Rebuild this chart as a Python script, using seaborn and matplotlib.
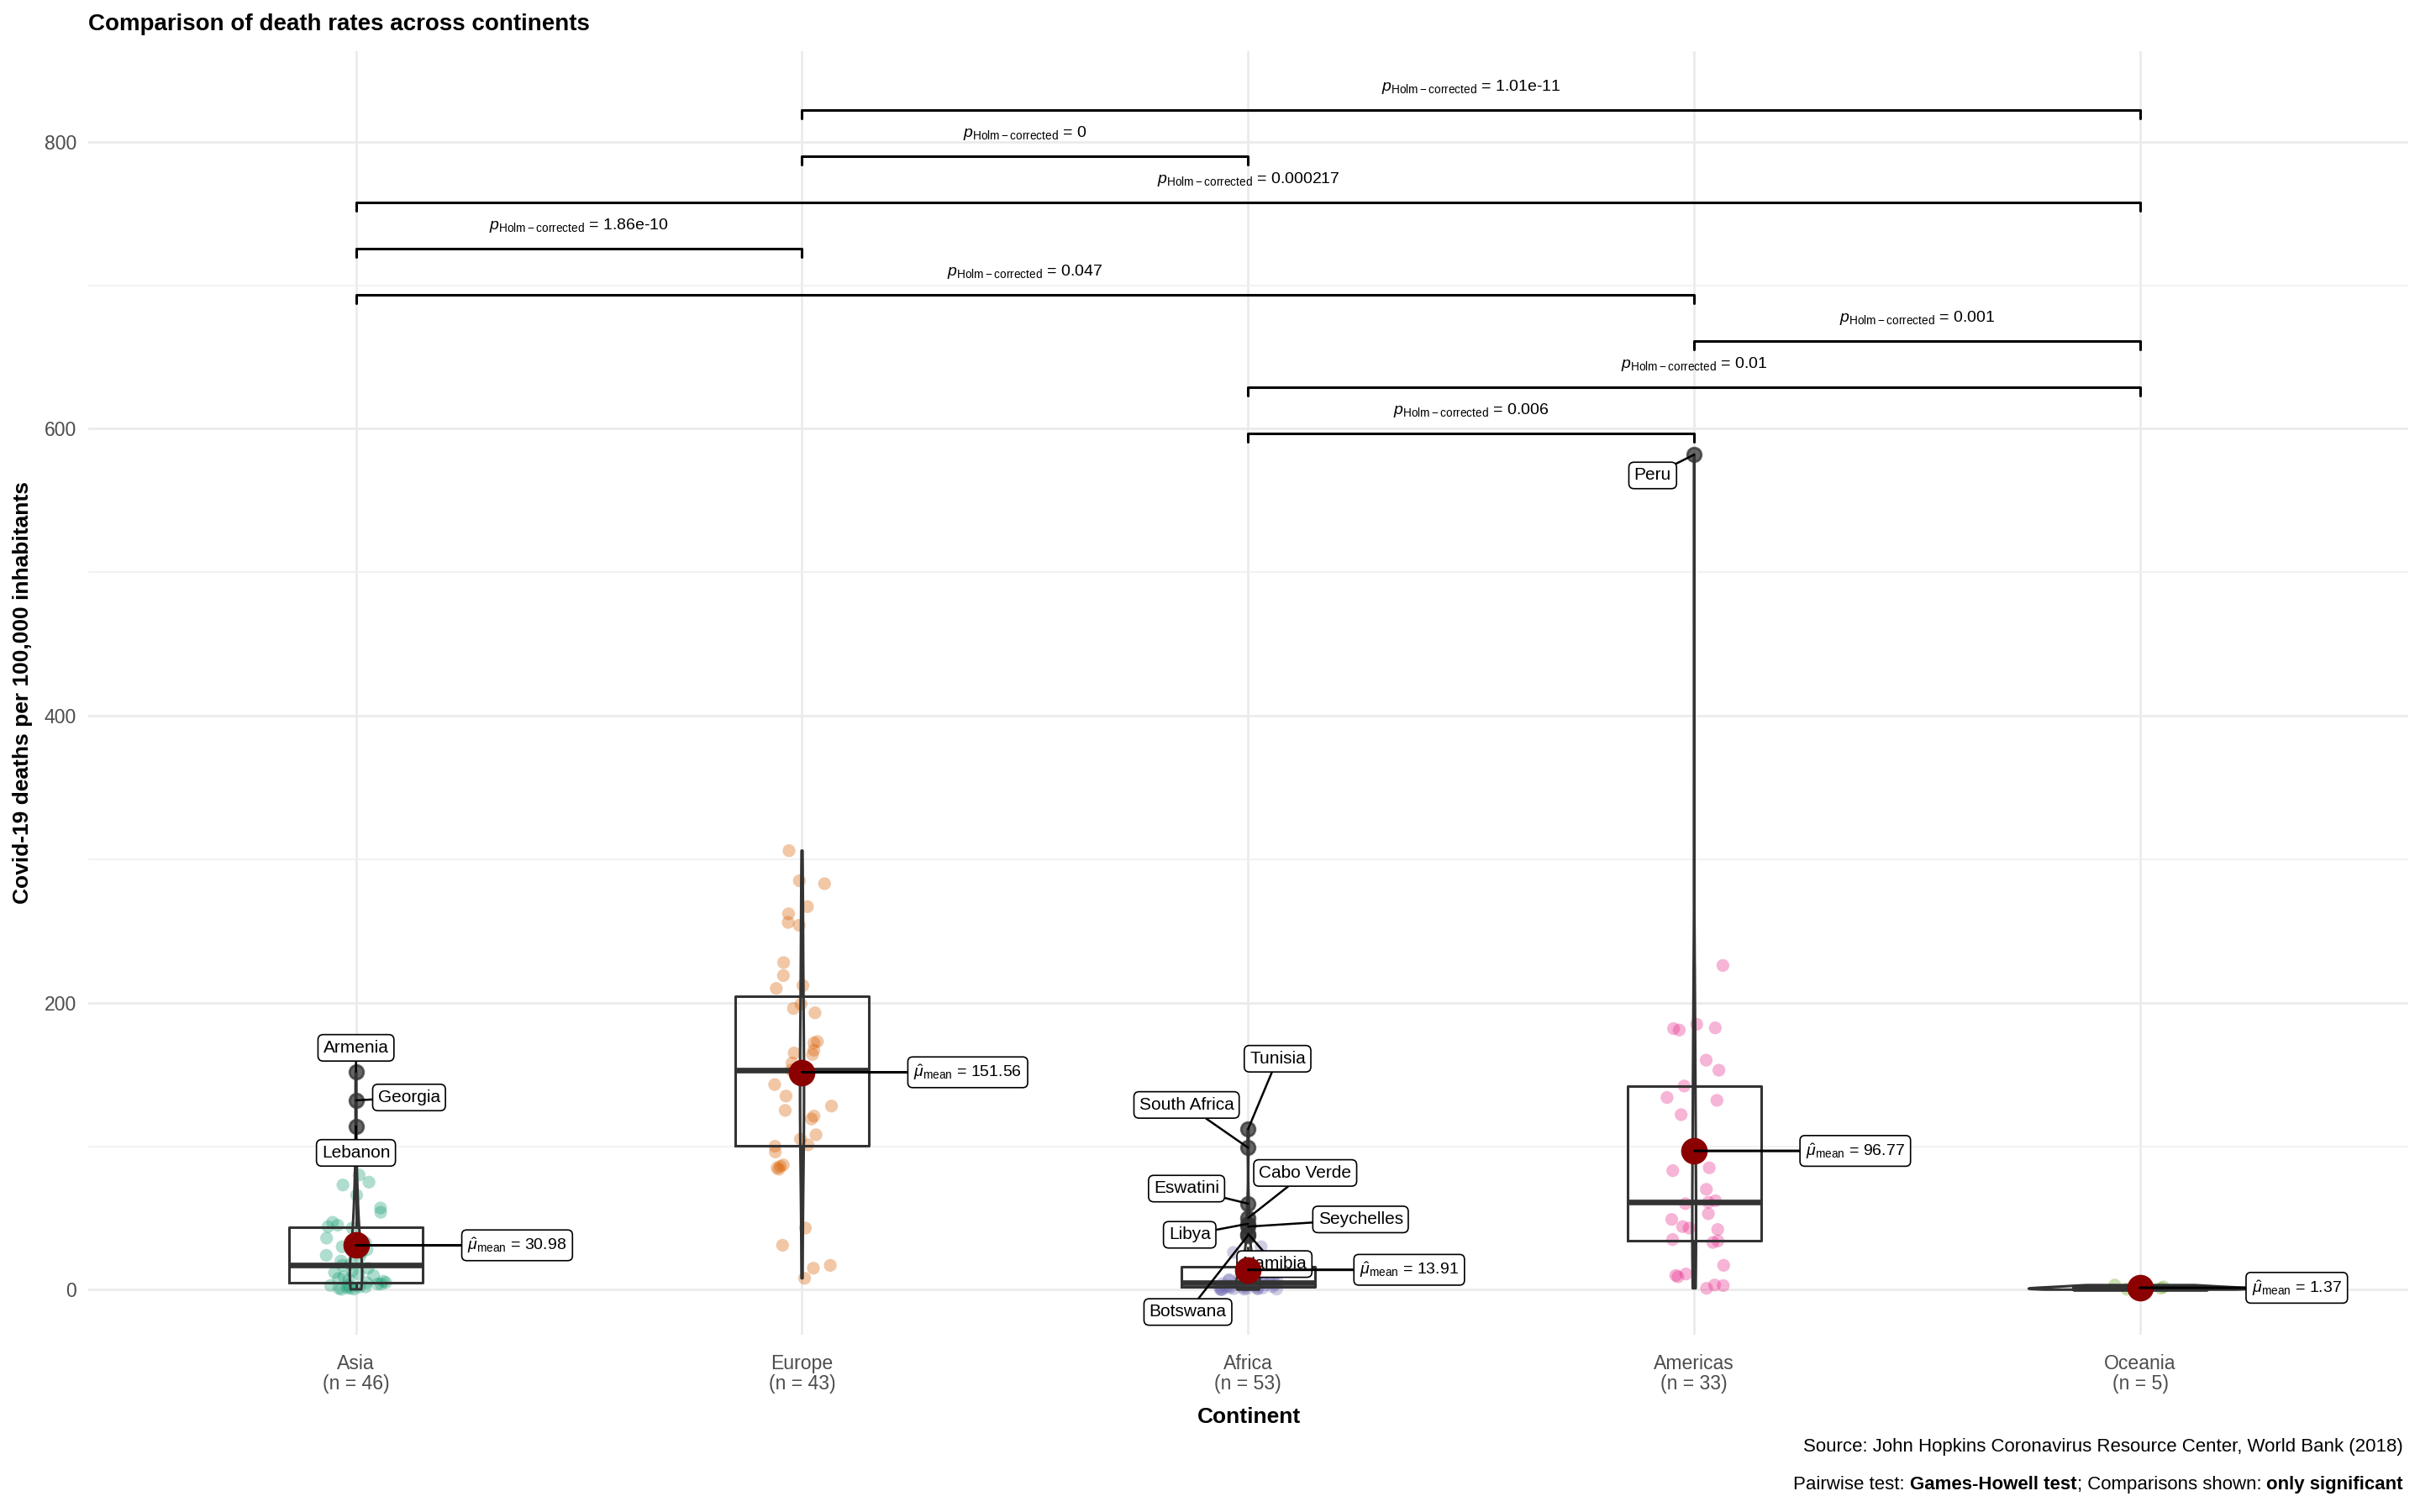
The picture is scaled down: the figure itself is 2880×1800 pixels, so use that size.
import numpy as np
import pandas as pd
import seaborn as sns
import matplotlib.pyplot as plt
from matplotlib.ticker import MultipleLocator

# data (deaths per 100,000 inhabitants)
continents = ["Asia", "Europe", "Africa", "Americas", "Oceania"]

asia_deaths = [80, 75, 73, 66, 57, 54, 47, 45, 44, 43, 36, 34, 33, 30, 28, 26, 24, 23,
               20, 18, 17, 15, 13, 12, 11, 10, 9, 8, 7, 6, 5, 5, 4, 4, 3, 3, 2, 2,
               1.5, 1, 1, 0.5, 0.3]
europe_deaths = [306, 285, 283, 267, 262, 256, 254, 228, 219, 212, 210, 199, 196, 193,
                 173, 172, 167, 165, 164, 158, 154, 153, 152, 143, 135, 128, 125, 121,
                 119, 108, 105, 101, 100, 96, 87, 86, 85, 84, 43, 31, 17, 15, 8]
africa_deaths = [30, 26, 22, 19, 17, 16, 14, 13, 11, 10, 9, 8, 7.5, 7, 6.5, 6, 5.5, 5.2,
                 5, 4.5, 4.2, 4, 3.8, 3.5, 3.2, 3, 2.8, 2.6, 2.4, 2.2, 2, 1.9, 1.7, 1.5,
                 1.3, 1.2, 1, 0.9, 0.8, 0.6, 0.5, 0.4, 0.3, 0.2, 0.1]
americas_deaths = [226, 185, 182.5, 182, 181, 160, 153, 142, 134, 132, 122, 85, 83, 70,
                   62, 61, 60, 53, 49, 44, 43, 42, 35, 34, 33, 17, 11, 10, 9, 3.3, 2.9, 1]
oceania_deaths = [0.1, 0.4, 1.1, 2.0, 3.25]

outlier_names = ["Armenia", "Georgia", "Lebanon", "Tunisia", "South Africa", "Eswatini",
                 "Cabo Verde", "Libya", "Seychelles", "Namibia", "Botswana", "Peru"]
outlier_continent = ["Asia", "Asia", "Asia", "Africa", "Africa", "Africa",
                     "Africa", "Africa", "Africa", "Africa", "Africa", "Americas"]
outlier_deaths = [152, 132, 114, 112, 99, 60, 50, 46, 44, 39, 38, 582]

mean_deaths = [30.98, 151.56, 13.91, 96.77, 1.37]

pair_a = ["Africa", "Africa", "Americas", "Asia", "Asia", "Asia", "Europe", "Europe"]
pair_b = ["Americas", "Oceania", "Oceania", "Americas", "Europe", "Oceania", "Africa", "Oceania"]
p_holm = ["0.006", "0.01", "0.001", "0.047", "1.86e-10", "0.000217", "0", "1.01e-11"]

# where the repelled labels sit
label_pos = {"Armenia": (0.0, 168.6), "Georgia": (0.119, 134), "Lebanon": (0.0, 95.4),
             "Tunisia": (2.066, 161), "South Africa": (1.862, 128.8),
             "Cabo Verde": (2.128, 81.4), "Eswatini": (1.862, 70.5),
             "Seychelles": (2.252, 49), "Libya": (1.869, 38.3),
             "Namibia": (2.059, 17.9), "Botswana": (1.865, -15.5), "Peru": (2.907, 567.5)}

sns.set_style("white")
plt.rcParams['font.family'] = ['Liberation Sans', 'DejaVu Sans']
plt.rcParams['text.color'] = 'black'
plt.rcParams['mathtext.fontset'] = 'custom'
plt.rcParams['mathtext.rm'] = 'Liberation Sans'
plt.rcParams['mathtext.it'] = 'Liberation Sans:italic'
plt.rcParams['mathtext.bf'] = 'Liberation Sans:bold'

regular = dict(zip(continents, [asia_deaths, europe_deaths, africa_deaths,
                                americas_deaths, oceania_deaths]))
pts = pd.DataFrame([(c, v) for c in continents for v in regular[c]],
                   columns=["continent", "deaths"])
out = pd.DataFrame({"country": outlier_names, "continent": outlier_continent,
                    "deaths": outlier_deaths})
df = pd.concat([pts, out[["continent", "deaths"]]], ignore_index=True)
counts = df.groupby("continent").size()

palette = dict(zip(continents, sns.color_palette("Dark2", 5)))

fig = plt.figure(figsize=(14.4, 9), dpi=200)
ax = fig.add_axes([0.0365, 0.117, 0.9585, 0.849])

np.random.seed(3)
sns.stripplot(data=pts, x="continent", y="deaths", hue="continent", order=continents,
              palette=palette, jitter=0.07, size=5.5, alpha=0.35, linewidth=0,
              legend=False, ax=ax, zorder=2)
sns.boxplot(data=df, x="continent", y="deaths", order=continents, width=0.3, fill=False,
            color="#333333", linewidth=1.1, showcaps=False, whis=1.5,
            medianprops=dict(linewidth=2.4),
            flierprops=dict(marker='o', markerfacecolor='#333333',
                            markeredgecolor='#333333', alpha=0.75, markersize=6),
            ax=ax, zorder=3)
sns.violinplot(data=df, x="continent", y="deaths", order=continents, width=0.5,
               fill=False, color="#333333", linewidth=1.1, density_norm="area", cut=0,
               inner=None, ax=ax, zorder=3)

# outlier labels
for name, cont, val in zip(outlier_names, outlier_continent, outlier_deaths):
    lx, ly = label_pos[name]
    ax.annotate(name, xy=(continents.index(cont), val), xytext=(lx, ly),
                ha='center', va='center', fontsize=7.5,
                bbox=dict(boxstyle='round,pad=0.3,rounding_size=0.3', fc='white',
                          ec='black', lw=0.6),
                arrowprops=dict(arrowstyle='-', color='black', lw=0.9,
                                shrinkA=0, shrinkB=0), zorder=5)

# means
ax.scatter(range(len(continents)), mean_deaths, s=130, color='#8B0000', zorder=7,
           linewidths=0)
for i, m in enumerate(mean_deaths):
    ax.annotate(rf"$\hat{{\mu}}_{{\mathrm{{mean}}}}$ = {m:.2f}", xy=(i, m),
                xytext=(i + 0.25, m), ha='left', va='center', fontsize=7,
                bbox=dict(boxstyle='round,pad=0.35,rounding_size=0.3', fc='white',
                          ec='black', lw=0.6),
                arrowprops=dict(arrowstyle='-', color='black', lw=1.1,
                                shrinkA=0, shrinkB=0), zorder=8)

# pairwise brackets
for k, (a, b, p) in enumerate(zip(pair_a, pair_b, p_holm)):
    y = 597 + 32.2 * k
    x1, x2 = continents.index(a), continents.index(b)
    ax.plot([x1, x1, x2, x2], [y - 6, y, y, y - 6], color='black', lw=1.1, zorder=4)
    ax.text((x1 + x2) / 2, y + 16, rf"$p_{{\mathrm{{Holm-corrected}}}}$ = {p}",
            ha='center', va='center', fontsize=7)

ax.set_xlim(-0.6, 4.6)
ax.set_ylim(-31.6, 863)
ax.set_yticks([0, 200, 400, 600, 800])
ax.yaxis.set_minor_locator(MultipleLocator(100))
ax.grid(which='major', color='#EBEBEB', lw=1.0)
ax.grid(which='minor', axis='y', color='#F0F0F0', lw=0.6)
ax.set_axisbelow(True)
for s in ax.spines.values():
    s.set_visible(False)
ax.tick_params(which='major', length=3, width=0.9, color='#333333',
               labelcolor='#4D4D4D', labelsize=8.3, pad=2)
ax.tick_params(axis='x', which='major', pad=5)
ax.tick_params(which='minor', length=0)
ax.set_xticks(range(len(continents)))
ax.set_xticklabels([f"{c}\n(n = {counts[c]})" for c in continents], linespacing=1.05)
ax.set_xlabel("")
ax.set_ylabel("")

fig.text(0.0365, 0.984, "Comparison of death rates across continents", fontsize=10,
         fontweight='bold', ha='left', va='center')
fig.text(0.516, 0.063, "Continent", fontsize=9.5, fontweight='bold', ha='center',
         va='center')
fig.text(0.0094, 0.5417, "Covid-19 deaths per 100,000 inhabitants", fontsize=9.5,
         fontweight='bold', rotation=90, ha='center', va='center')

fig.text(0.993, 0.0428, "Source: John Hopkins Coronavirus Resource Center, World Bank (2018)",
         fontsize=8, ha='right', va='center')

renderer = fig.canvas.get_renderer()
pieces = [("Pairwise test: ", "normal"), ("Games-Howell test", "bold"),
          ("; Comparisons shown: ", "normal"), ("only significant", "bold")]
x_px = 0.993 * fig.bbox.width
for txt, w in reversed(pieces):
    t = fig.text(x_px / fig.bbox.width, 0.0183, txt, fontsize=8, fontweight=w,
                 ha='right', va='center')
    x_px -= t.get_window_extent(renderer).width

fig.savefig("out.png", dpi=200)
